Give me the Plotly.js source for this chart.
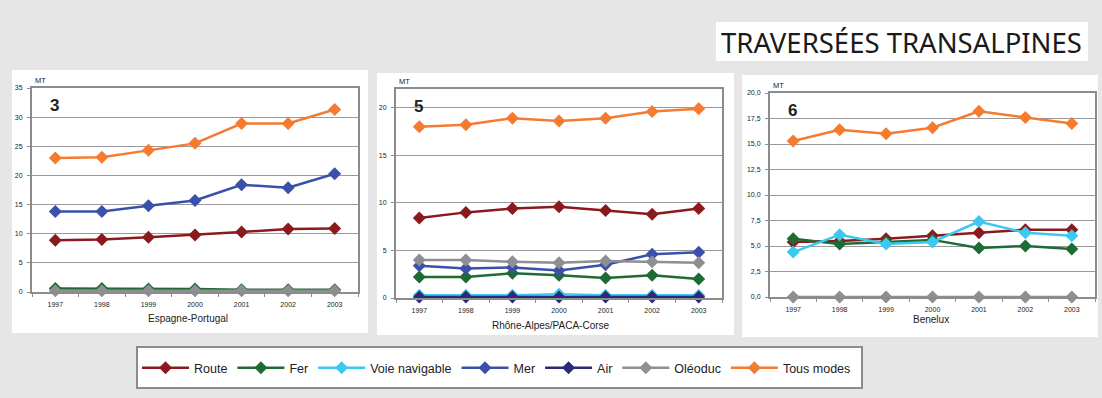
<!DOCTYPE html>
<html>
<head>
<meta charset="utf-8">
<script src="https://cdn.plot.ly/plotly-3.0.1.min.js"></script>
<style>
  html, body { margin: 0; padding: 0; background: #e6e6e6; }
  #chart { width: 1102px; height: 398px; }
</style>
</head>
<body>
<div id="chart"></div>
<script>
// Years on the category axis
const years = ['1997', '1998', '1999', '2000', '2001', '2002', '2003'];

// Transport modes (legend order)
const modes = ['Route', 'Fer', 'Voie navigable', 'Mer', 'Air', 'Oléoduc', 'Tous modes'];

// Espagne-Portugal (MT)
const espRoute   = [8.9, 9.0, 9.4, 9.8, 10.3, 10.8, 10.9];
const espFer     = [0.6, 0.6, 0.5, 0.5, 0.4, 0.4, 0.4];
const espVoie    = [null, null, null, null, null, null, null];
const espMer     = [13.8, 13.8, 14.8, 15.7, 18.4, 17.9, 20.3];
const espAir     = [null, null, null, null, null, null, null];
const espOleoduc = [0.2, 0.2, 0.2, 0.2, 0.2, 0.2, 0.2];
const espTous    = [23.0, 23.1, 24.3, 25.5, 28.9, 28.9, 31.3];

// Rhône-Alpes/PACA-Corse (MT)
const rhoRoute   = [8.4, 9.0, 9.4, 9.6, 9.2, 8.8, 9.4];
const rhoFer     = [2.2, 2.2, 2.6, 2.4, 2.1, 2.4, 2.0];
const rhoVoie    = [0.3, 0.3, 0.3, 0.4, 0.3, 0.3, 0.3];
const rhoMer     = [3.4, 3.1, 3.2, 2.9, 3.5, 4.6, 4.8];
const rhoAir     = [0.1, 0.1, 0.1, 0.1, 0.1, 0.1, 0.1];
const rhoOleoduc = [4.0, 4.0, 3.8, 3.7, 3.9, 3.8, 3.7];
const rhoTous    = [18.0, 18.2, 18.9, 18.6, 18.9, 19.6, 19.9];

// Benelux (MT)
const benRoute   = [5.4, 5.5, 5.7, 6.0, 6.3, 6.6, 6.6];
const benFer     = [5.7, 5.2, 5.4, 5.6, 4.8, 5.0, 4.7];
const benVoie    = [4.4, 6.1, 5.2, 5.4, 7.4, 6.3, 6.0];
const benMer     = [null, null, null, null, null, null, null];
const benAir     = [null, null, null, null, null, null, null];
const benOleoduc = [0, 0, 0, 0, 0, 0, 0];
const benTous    = [15.3, 16.4, 16.0, 16.6, 18.2, 17.6, 17.0];

// Panel labels
const panelNames   = ['Espagne-Portugal', 'Rhône-Alpes/PACA-Corse', 'Benelux'];
const panelNumbers = ['3', '5', '6'];
const mainTitle    = 'TRAVERSÉES TRANSALPINES';
const unitLabel    = 'MT';

const panelSeries = [
  [espRoute, espFer, espVoie, espMer, espAir, espOleoduc, espTous],
  [rhoRoute, rhoFer, rhoVoie, rhoMer, rhoAir, rhoOleoduc, rhoTous],
  [benRoute, benFer, benVoie, benMer, benAir, benOleoduc, benTous]
];

const colors = ['#8b1a1f', '#1e6b34', '#3cc8f0', '#3a50aa', '#2b2a7a', '#8e8e93', '#f47b30'];

// Page geometry in pixels
const W = 1102, H = 398;
const px = x => x / W;
const py = y => 1 - y / H;

const FONT = 'Liberation Sans, Arial, sans-serif';

// Plot-area frames [left, right, top, bottom] and white card frames
const plots = [
  { l: 32,  r: 358,  t: 88,   b: 292, ymax: 35, dtick: 5,   fmt: '',    card: [12, 368, 70, 333],  titleX: 188, titleY: 318 },
  { l: 396, r: 722,  t: 88.7, b: 298, ymax: 22, dtick: 5,   fmt: '',    card: [377, 734, 73, 335], titleX: 551, titleY: 325 },
  { l: 770, r: 1095, t: 93,   b: 297, ymax: 20, dtick: 2.5, fmt: '.1f', card: [742, 1098, 75, 337], titleX: 931, titleY: 319 }
];

const traces = [];
modes.forEach((mode, m) => {
  plots.forEach((p, i) => {
    const suffix = i === 0 ? '' : String(i + 1);
    traces.push({
      type: 'scatter',
      mode: 'lines+markers',
      name: mode,
      legendgroup: mode,
      showlegend: i === 1,
      x: years,
      y: panelSeries[i][m],
      xaxis: 'x' + suffix,
      yaxis: 'y' + suffix,
      cliponaxis: false,
      line: { color: colors[m], width: 2.5 },
      marker: { symbol: 'diamond', size: 10, color: colors[m] },
      hoverinfo: 'x+y+name'
    });
  });
});

const layout = {
  width: W,
  height: H,
  margin: { l: 0, r: 0, t: 0, b: 0 },
  paper_bgcolor: '#e6e6e6',
  plot_bgcolor: '#f8f6c8',
  separators: ', ',
  font: { family: FONT, size: 7, color: '#222' },
  showlegend: true,
  legend: {
    orientation: 'h',
    x: px(137),
    xanchor: 'left',
    y: py(368),
    yanchor: 'middle',
    bgcolor: 'rgba(0,0,0,0)',
    borderwidth: 0,
    itemwidth: 47,
    font: { family: FONT, size: 12.5, color: '#222' }
  },
  shapes: [],
  annotations: []
};

plots.forEach((p, i) => {
  const suffix = i === 0 ? '' : String(i + 1);
  layout['xaxis' + suffix] = {
    domain: [px(p.l), px(p.r)],
    anchor: 'y' + suffix,
    type: 'category',
    range: [-0.5, 6.5],
    tickson: 'boundaries',
    ticks: 'outside',
    ticklen: 3,
    tickcolor: '#8c8c8c',
    ticklabelstandoff: 5,
    showgrid: false,
    showline: true,
    mirror: true,
    linecolor: '#8c8c8c',
    linewidth: 2,
    tickfont: { family: FONT, size: 7, color: '#222' },
    fixedrange: true
  };
  layout['yaxis' + suffix] = {
    domain: [py(p.b), py(p.t)],
    anchor: 'x' + suffix,
    range: [0, p.ymax],
    dtick: p.dtick,
    tick0: 0,
    tickformat: p.fmt,
    ticks: 'outside',
    ticklen: 3,
    tickcolor: '#8c8c8c',
    ticklabelstandoff: 3,
    showgrid: true,
    gridcolor: '#9a9a9a',
    gridwidth: 1,
    zeroline: false,
    showline: true,
    mirror: true,
    linecolor: '#8c8c8c',
    linewidth: 2,
    tickfont: { family: FONT, size: 7, color: '#222' },
    fixedrange: true
  };

  // White card behind each chart
  layout.shapes.push({
    type: 'rect', xref: 'paper', yref: 'paper', layer: 'below',
    x0: px(p.card[0]), x1: px(p.card[1]), y0: py(p.card[3]), y1: py(p.card[2]),
    fillcolor: '#ffffff', line: { width: 0 }
  });

  // Unit label above the value axis
  layout.annotations.push({
    xref: 'paper', yref: 'paper', x: px(p.l + 1), y: py(p.t - 1),
    xanchor: 'left', yanchor: 'bottom', showarrow: false,
    text: unitLabel, font: { family: FONT, size: 7.5, color: '#222' }
  });

  // Panel number
  layout.annotations.push({
    xref: 'paper', yref: 'paper', x: px(p.l + 22), y: py(p.t + 18),
    xanchor: 'center', yanchor: 'middle', showarrow: false,
    text: '<b>' + panelNumbers[i] + '</b>', font: { family: FONT, size: 17, color: '#222' }
  });

  // Region name under the category axis
  layout.annotations.push({
    xref: 'paper', yref: 'paper', x: px(p.titleX), y: py(p.titleY),
    xanchor: 'center', yanchor: 'middle', showarrow: false,
    text: panelNames[i], font: { family: FONT, size: 10, color: '#222' }
  });
});

// Title box
layout.shapes.push({
  type: 'rect', xref: 'paper', yref: 'paper', layer: 'below',
  x0: px(716), x1: px(1088), y0: py(61), y1: py(22),
  fillcolor: '#ffffff', line: { width: 0 }
});
layout.annotations.push({
  xref: 'paper', yref: 'paper', x: px(719), y: py(42),
  xanchor: 'left', yanchor: 'middle', showarrow: false,
  text: mainTitle,
  font: { family: 'Noto Sans, sans-serif', size: 27.5, color: '#1a1a1a' }
});

// Legend box
layout.shapes.push({
  type: 'rect', xref: 'paper', yref: 'paper', layer: 'below',
  x0: px(137), x1: px(862), y0: py(388), y1: py(347),
  fillcolor: '#ffffff', line: { color: '#8c8c8c', width: 2 }
});

Plotly.newPlot('chart', traces, layout, { displayModeBar: false, staticPlot: true });
</script>
</body>
</html>
